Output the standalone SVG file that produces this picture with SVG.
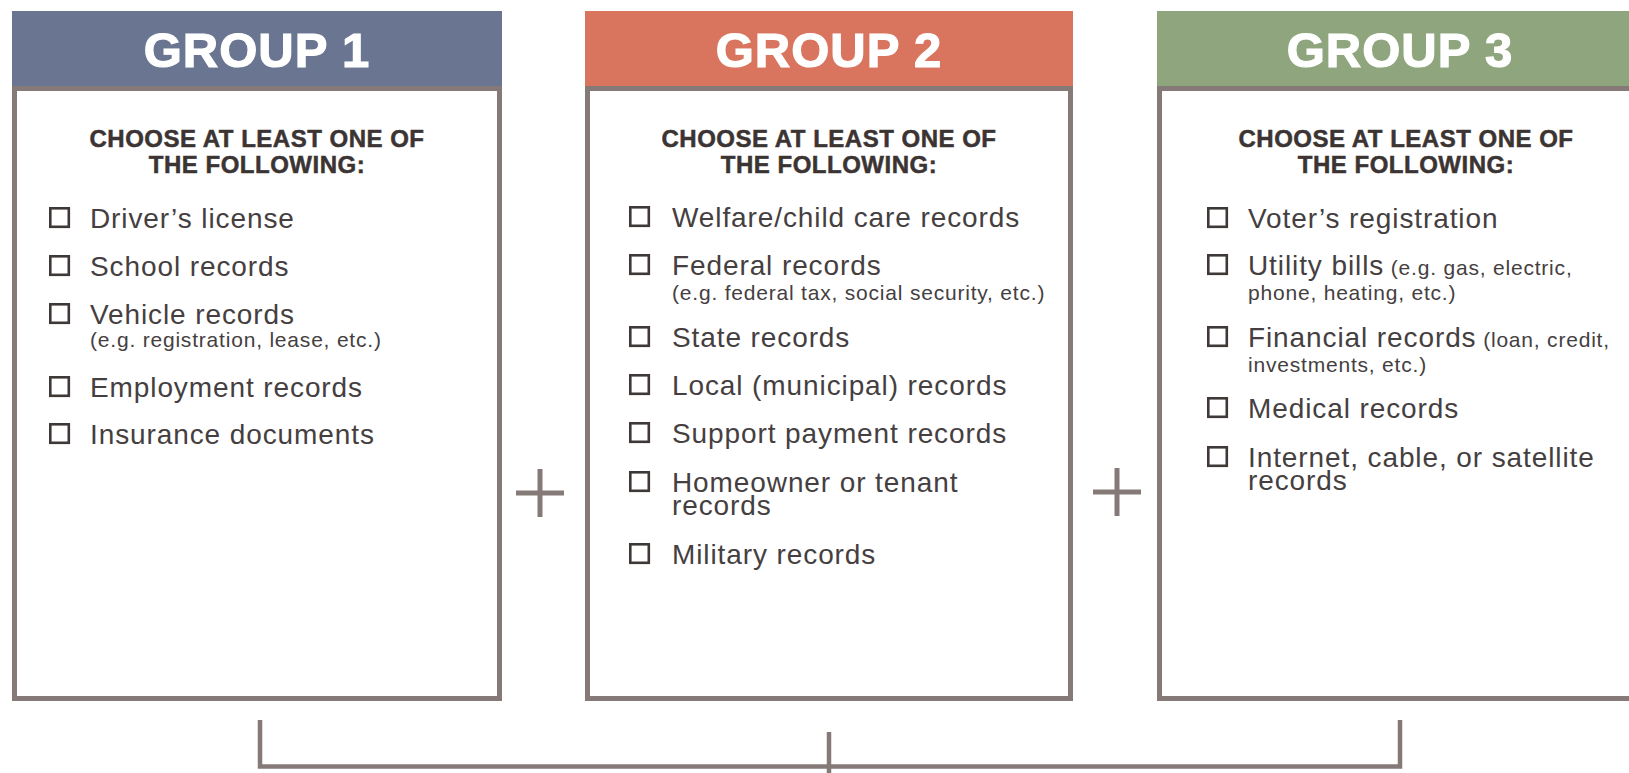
<svg xmlns="http://www.w3.org/2000/svg" width="1629" height="773" viewBox="0 0 1629 773">
<style>
.hdr{font-family:"Liberation Sans",Arial,sans-serif;font-weight:bold;font-size:49px;fill:#ffffff;stroke:#ffffff;stroke-width:1.2;text-anchor:middle;letter-spacing:1px}
.sub{font-family:"Liberation Sans",Arial,sans-serif;font-weight:bold;font-size:24px;fill:#3b3433;stroke:#3b3433;stroke-width:0.5;text-anchor:middle;letter-spacing:0.5px}
.it{font-family:"Liberation Sans",Arial,sans-serif;font-size:28px;fill:#45403f;letter-spacing:0.9px}
.sm{font-size:21px;letter-spacing:0.8px}
.box{fill:#ffffff;stroke:#857a78;stroke-width:5}
.cb{fill:none;stroke:#3e3837;stroke-width:2.6}
.ln{fill:none;stroke:#857a78;stroke-width:4.5}
.plus{stroke:#857a78;stroke-width:5;fill:none}
</style>
<rect width="1629" height="773" fill="#ffffff"/>

<g id="group1">
<rect x="12" y="11" width="490" height="75" fill="#6a7591"/>
<rect class="box" x="14.5" y="88.5" width="485" height="610"/>
<text class="hdr" x="257" y="67">GROUP 1</text>
<text class="sub" x="257" y="147">CHOOSE AT LEAST ONE OF</text>
<text class="sub" x="257" y="173">THE FOLLOWING:</text>
<rect class="cb" x="50.3" y="208.3" width="18.5" height="18.5"/>
<text class="it" x="90" y="228">Driver’s license</text>
<rect class="cb" x="50.3" y="256.3" width="18.5" height="18.5"/>
<text class="it" x="90" y="276">School records</text>
<rect class="cb" x="50.3" y="304.3" width="18.5" height="18.5"/>
<text class="it" x="90" y="324">Vehicle records<tspan class="sm" x="90" dy="23">(e.g. registration, lease, etc.)</tspan></text>
<rect class="cb" x="50.3" y="377.3" width="18.5" height="18.5"/>
<text class="it" x="90" y="397">Employment records</text>
<rect class="cb" x="50.3" y="424.3" width="18.5" height="18.5"/>
<text class="it" x="90" y="444">Insurance documents</text>
</g>

<g id="group2">
<rect x="585" y="11" width="488" height="75" fill="#d9745f"/>
<rect class="box" x="587.5" y="88.5" width="483" height="610"/>
<text class="hdr" x="829" y="67">GROUP 2</text>
<text class="sub" x="829" y="147">CHOOSE AT LEAST ONE OF</text>
<text class="sub" x="829" y="173">THE FOLLOWING:</text>
<rect class="cb" x="630.3" y="207.3" width="18.5" height="18.5"/>
<text class="it" x="672" y="227">Welfare/child care records</text>
<rect class="cb" x="630.3" y="255.3" width="18.5" height="18.5"/>
<text class="it" x="672" y="275">Federal records<tspan class="sm" x="672" dy="25">(e.g. federal tax, social security, etc.)</tspan></text>
<rect class="cb" x="630.3" y="327.3" width="18.5" height="18.5"/>
<text class="it" x="672" y="347">State records</text>
<rect class="cb" x="630.3" y="375.3" width="18.5" height="18.5"/>
<text class="it" x="672" y="395">Local (municipal) records</text>
<rect class="cb" x="630.3" y="423.3" width="18.5" height="18.5"/>
<text class="it" x="672" y="443">Support payment records</text>
<rect class="cb" x="630.3" y="472.3" width="18.5" height="18.5"/>
<text class="it" x="672" y="492">Homeowner or tenant<tspan x="672" dy="23">records</tspan></text>
<rect class="cb" x="630.3" y="544.3" width="18.5" height="18.5"/>
<text class="it" x="672" y="564">Military records</text>
</g>

<g id="group3">
<rect x="1157" y="11" width="490" height="75" fill="#8fa57e"/>
<rect class="box" x="1159.5" y="88.5" width="485" height="610"/>
<text class="hdr" x="1400" y="67">GROUP 3</text>
<text class="sub" x="1406" y="147">CHOOSE AT LEAST ONE OF</text>
<text class="sub" x="1406" y="173">THE FOLLOWING:</text>
<rect class="cb" x="1208.3" y="208.3" width="18.5" height="18.5"/>
<text class="it" x="1248" y="228">Voter’s registration</text>
<rect class="cb" x="1208.3" y="255.3" width="18.5" height="18.5"/>
<text class="it" x="1248" y="275">Utility bills<tspan class="sm"> (e.g. gas, electric,</tspan><tspan class="sm" x="1248" dy="25">phone, heating, etc.)</tspan></text>
<rect class="cb" x="1208.3" y="327.3" width="18.5" height="18.5"/>
<text class="it" x="1248" y="347">Financial records<tspan class="sm"> (loan, credit,</tspan><tspan class="sm" x="1248" dy="25">investments, etc.)</tspan></text>
<rect class="cb" x="1208.3" y="398.3" width="18.5" height="18.5"/>
<text class="it" x="1248" y="418">Medical records</text>
<rect class="cb" x="1208.3" y="447.3" width="18.5" height="18.5"/>
<text class="it" x="1248" y="467">Internet, cable, or satellite<tspan x="1248" dy="23">records</tspan></text>
</g>

<g id="connectors">
<path class="plus" d="M516 493H564M540 469V517"/>
<path class="plus" d="M1093 492H1141M1117 468V516"/>
<path class="ln" d="M260 720V766.5H1400V720"/>
<path class="ln" d="M829 732V773"/>
</g>
</svg>
